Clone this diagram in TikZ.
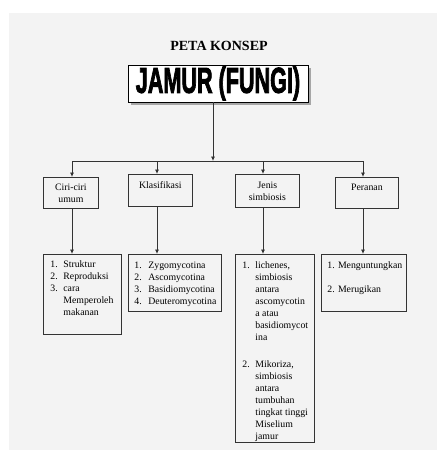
\documentclass[tikz,border=0pt]{standalone}
\usepackage{fontspec}
\setmainfont{Liberation Serif}
\newfontfamily\jamfont{Liberation Sans}[BoldFeatures={FakeBold=3}]
\usetikzlibrary{arrows.meta,shadows}
\definecolor{panel}{HTML}{F3F3F3}
\definecolor{ink}{HTML}{333333}
\tikzset{
  box/.style={draw=ink, line width=0.8pt, inner sep=0pt, anchor=north west},
  conn/.style={draw=ink, line width=0.8pt},
  arr/.style={conn, -{Latex[length=4.5pt,width=4pt]}},
  txt/.style={font=\fontsize{9.8}{12}\selectfont}
}
\newcommand{\topbox}[4]{\parbox[c][#2pt][t]{#1pt}{\vspace*{#3pt}\centering\strut #4}}
\newcommand{\listbox}[5]{\parbox[c][#2pt][t]{#1pt}{\vspace*{#3pt}\hspace*{#4pt}#5}}
\begin{document}
\begin{tikzpicture}[x=1pt,y=-1pt]
\useasboundingbox (0,0) rectangle (437,451);
\fill[white] (0,0) rectangle (437,451);
\fill[panel] (9,13) rectangle (437,450);

\node[font=\bfseries\fontsize{14}{16}\selectfont, anchor=base] (title) at (219,50) {PETA KONSEP};

\node[draw=black, line width=0.9pt, fill=white, inner sep=0pt, minimum width=180pt, minimum height=37pt,
      drop shadow={shadow xshift=3pt, shadow yshift=-3pt, fill=gray!70, opacity=1}]
  (jamur) at (218,83.5) {\jamfont\bfseries\fontsize{36}{36}\selectfont\scalebox{0.6}[1]{JAMUR (FUNGI)}};

% top row
\node[box, txt] (c1) at (43,177) {\topbox{55}{31}{4.6}{Ciri-ciri\\umum}};
\node[box, txt] (c2) at (128,174) {\topbox{64}{32}{5.6}{Klasifikasi}};
\node[box, txt] (c3) at (235,174) {\topbox{64}{33}{5.6}{Jenis\\simbiosis}};
\node[box, txt] (c4) at (335,177) {\topbox{63}{31}{4.6}{Peranan}};

% bottom row
\node[box, txt] (l1) at (43,254) {\listbox{78}{80}{4.6}{7}{\begin{tabular}[t]{@{}p{13pt}@{}l@{}}
1. & Struktur\\
2. & Reproduksi\\
3. & cara\\
   & Memperoleh\\
   & makanan
\end{tabular}}};
\node[box, txt] (l2) at (128,254) {\listbox{93}{57}{5.6}{6}{\begin{tabular}[t]{@{}p{14pt}@{}l@{}}
1. & Zygomycotina\\
2. & Ascomycotina\\
3. & Basidiomycotina\\
4. & Deuteromycotina
\end{tabular}}};
\node[box, txt] (l3) at (235,254) {\listbox{79}{188}{5.6}{7}{\begin{tabular}[t]{@{}p{13pt}@{}l@{}}
1. & lichenes,\\
   & simbiosis\\
   & antara\\
   & ascomycotin\\
   & a atau\\
   & basidiomycot\\
   & ina\\[15pt]
2. & Mikoriza,\\
   & simbiosis\\
   & antara\\
   & tumbuhan\\
   & tingkat tinggi\\
   & Miselium\\
   & jamur
\end{tabular}}};
\node[box, txt] (l4) at (321,254) {\listbox{85}{57}{5.6}{6}{\begin{tabular}[t]{@{}l@{}}
1. Menguntungkan\\[12pt]
2. Merugikan
\end{tabular}}};

% connectors
\coordinate (hub) at (213,161);
\coordinate (a1) at (72,161);
\coordinate (a2) at (157,161);
\coordinate (a3) at (263,161);
\coordinate (a4) at (363,161);
\draw[arr] (jamur.south -| hub) -- (hub);
\draw[conn] (a1) -- (a4);
\draw[arr] (a1) -- (a1 |- c1.north);
\draw[arr] (a2) -- (a2 |- c2.north);
\draw[arr] (a3) -- (a3 |- c3.north);
\draw[arr] (a4) -- (a4 |- c4.north);
\draw[arr] (c1.south -| a1) -- (l1.north -| a1);
\draw[arr] (c2.south -| a2) -- (l2.north -| a2);
\draw[arr] (c3.south -| a3) -- (l3.north -| a3);
\draw[arr] (c4.south -| a4) -- (l4.north -| a4);
\end{tikzpicture}
\end{document}
